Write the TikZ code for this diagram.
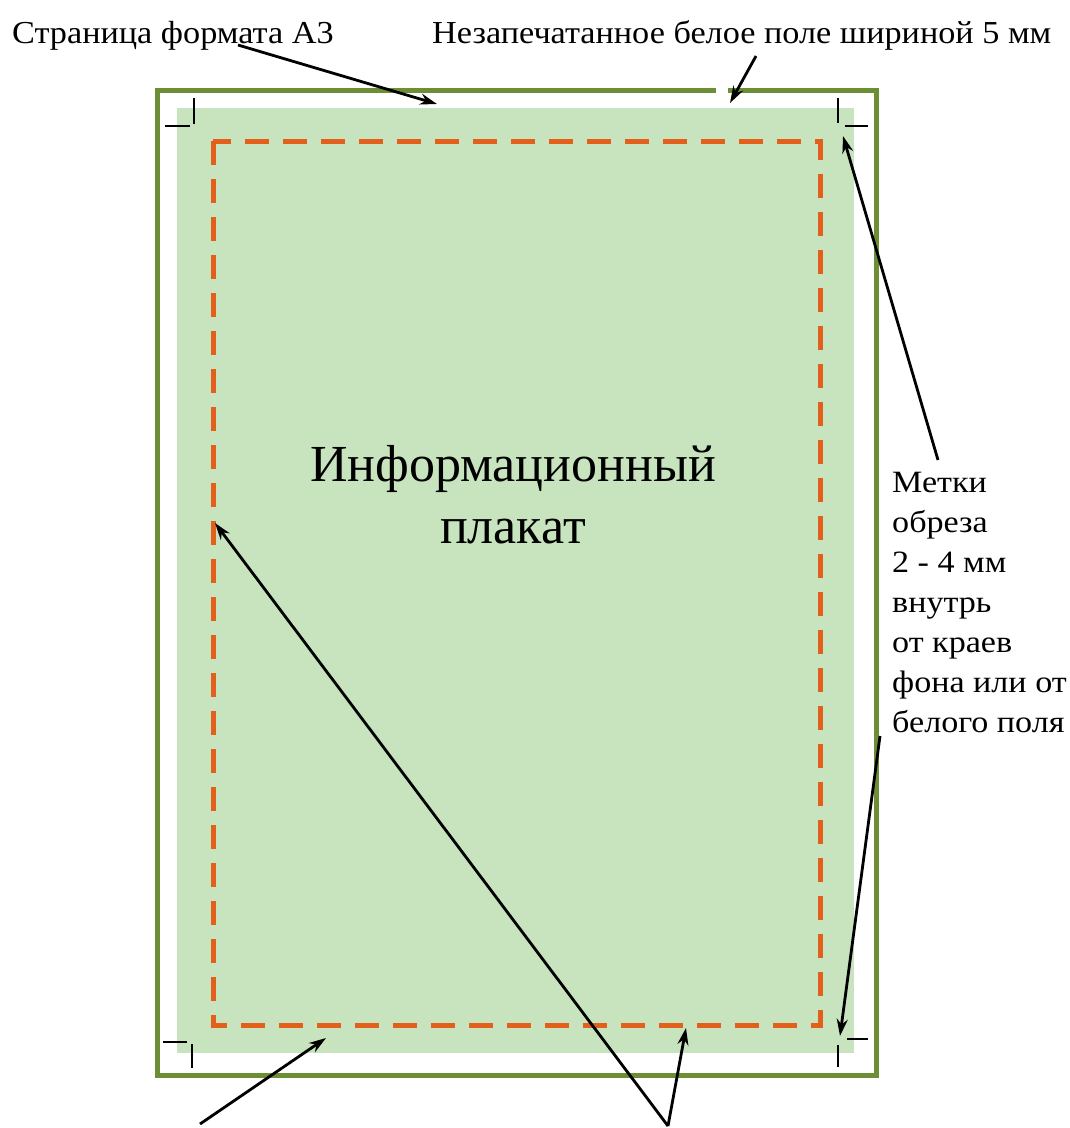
\documentclass[tikz,border=0pt]{standalone}
\usepackage{fontspec}
\setmainfont{Liberation Serif}
\newfontfamily\lblfont[FakeStretch=1.07]{Liberation Serif}
\newfontfamily\sidefont[FakeStretch=1.1]{Liberation Serif}
\usetikzlibrary{arrows.meta}
\definecolor{framegreen}{RGB}{108,142,52}
\definecolor{bggreen}{RGB}{200,228,190}
\definecolor{cutorange}{RGB}{226,96,28}
\begin{document}
\begin{tikzpicture}[x=1pt,y=-1pt,
  arr/.style={line width=2.8pt,-{Stealth[length=17pt,width=11pt]}},
  lbl/.style={font=\lblfont\fontsize{32}{40}\selectfont, inner sep=0pt},
  bigtxt/.style={font=\fontsize{52}{62}\selectfont, inner sep=0pt, align=center},
  cropmark/.style={line width=1.4pt, black}]
\fill[white] (0,0) rectangle (1070,1128);
\useasboundingbox (0,0) rectangle (1070,1128);
% poster background
\fill[bggreen] (177,108) rectangle (854,1053);
% A3 page frame
\draw[framegreen, line width=5pt] (157,90) rectangle (876,1075);
\fill[white] (716,86) rectangle (728,94);
% safe area
\draw[cutorange, line width=5pt, dash pattern=on 24pt off 14pt] (213,141) rectangle (820,1025);
% crop marks
\draw[cropmark] (194,98) -- (194,124) (165,126) -- (190,126);
\draw[cropmark] (838,98) -- (838,123) (845,126) -- (868,126);
\draw[cropmark] (163,1042) -- (187,1042) (192,1044) -- (192,1068);
\draw[cropmark] (847,1039) -- (868,1039) (838,1045) -- (838,1067);
% texts
\node[lbl, anchor=base west] (a3) at (12,43) {Страница формата А3};
\node[lbl, anchor=base west] (margin) at (432,43) {Незапечатанное белое поле шириной 5 мм};
\node[bigtxt, anchor=north] (title) at (513,445.5) {Информационный\\плакат};
\node[anchor=north west, inner sep=0pt, align=left, font=\sidefont\fontsize{31}{40}\selectfont] (marks) at (892,471.5)
  {Метки\\обреза\\2 - 4 мм\\внутрь\\от краев\\фона или от\\белого поля};
% arrow endpoints
\coordinate (a3s) at (238,45);
\coordinate (a3e) at (437,104);
\coordinate (ms) at (756,56);
\coordinate (me) at (730,103);
\coordinate (m1s) at (938,460);
\coordinate (m1e) at (843,136);
\coordinate (m2s) at (880,736);
\coordinate (m2e) at (840,1036);
\coordinate (bls) at (200,1124);
\coordinate (ble) at (326,1038);
\coordinate (bcs) at (668,1126);
\coordinate (bce1) at (215,523);
\coordinate (bce2) at (686,1028);
\draw[arr] (a3s) -- (a3e);
\draw[arr] (ms) -- (me);
\draw[arr] (m1s) -- (m1e);
\draw[arr] (m2s) -- (m2e);
\draw[arr] (bls) -- (ble);
\draw[arr] (bcs) -- (bce1);
\draw[arr] (bcs) -- (bce2);
\end{tikzpicture}
\end{document}
